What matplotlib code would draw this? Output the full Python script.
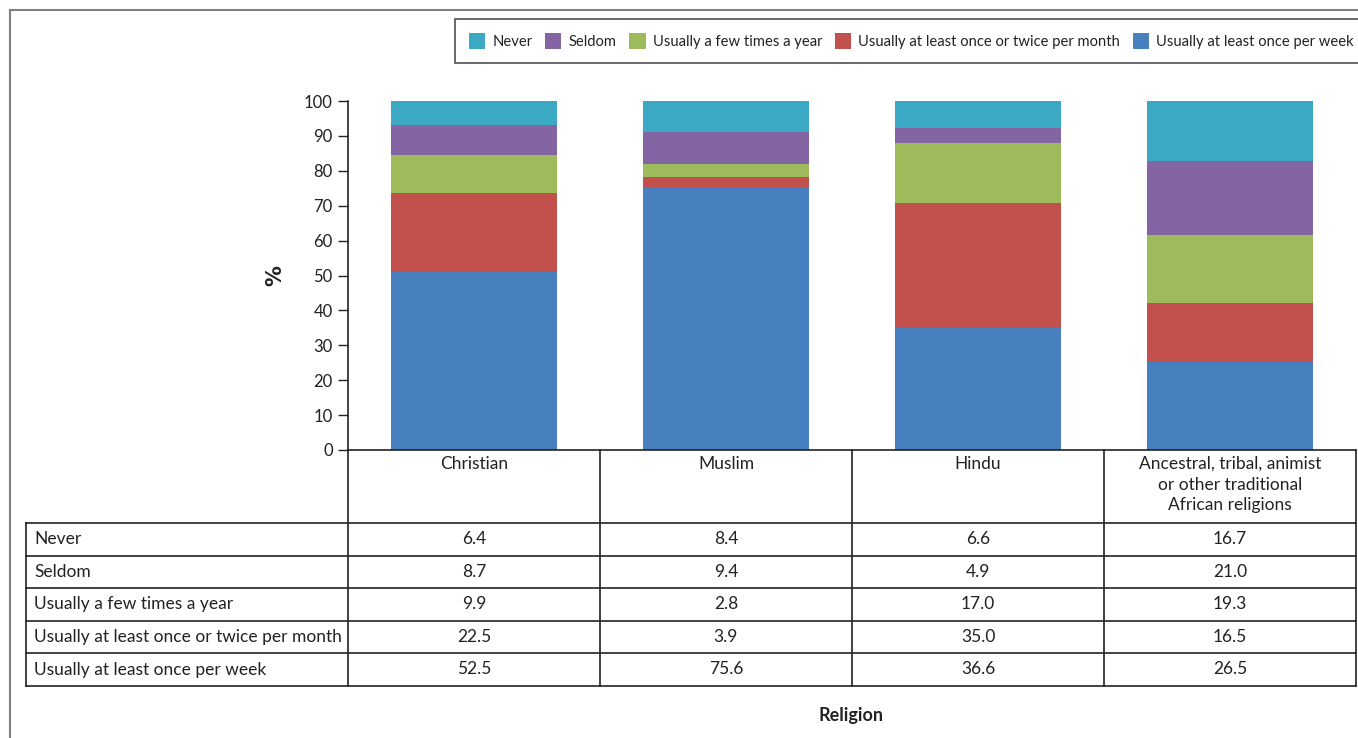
import matplotlib
matplotlib.use("Agg")
import matplotlib.pyplot as plt
from matplotlib.lines import Line2D
from matplotlib.patches import Patch
from matplotlib.transforms import blended_transform_factory

plt.rcParams['font.family'] = ['Lato', 'DejaVu Sans']

# ---- data ----
categories = ["Christian", "Muslim", "Hindu",
              "Ancestral, tribal, animist\nor other traditional\nAfrican religions"]
series_names = ["Never", "Seldom", "Usually a few times a year",
                "Usually at least once or twice per month",
                "Usually at least once per week"]
# values shown in the data table
table_never = [6.4, 8.4, 6.6, 16.7]
table_seldom = [8.7, 9.4, 4.9, 21.0]
table_few = [9.9, 2.8, 17.0, 19.3]
table_month = [22.5, 3.9, 35.0, 16.5]
table_week = [52.5, 75.6, 36.6, 26.5]
# bar segment heights as drawn in the chart
bar_never = [6.9, 8.9, 7.7, 17.2]
bar_seldom = [8.6, 9.1, 4.3, 21.2]
bar_few = [10.9, 3.8, 17.2, 19.5]
bar_month = [22.5, 3.0, 35.6, 16.8]
bar_week = [51.1, 75.2, 35.2, 25.3]
yticks = list(range(0, 101, 10))

colors = {"Never": "#3CA9C4", "Seldom": "#8365A4", "Usually a few times a year": "#9DBB5A",
          "Usually at least once or twice per month": "#C2514E",
          "Usually at least once per week": "#4880BF"}

W, H = 1358, 738
fig = plt.figure(figsize=(W / 100, H / 100), dpi=100)

def fx(p):
    return p / W

def fy(p):
    return 1 - p / H

ax = fig.add_axes([fx(348), fy(450), fx(1356) - fx(348), fy(101) - fy(450)])
ax.set_xlim(-0.5, 3.5)
ax.set_ylim(0, 100)

x = list(range(len(categories)))
stack = [("Usually at least once per week", bar_week),
         ("Usually at least once or twice per month", bar_month),
         ("Usually a few times a year", bar_few),
         ("Seldom", bar_seldom),
         ("Never", bar_never)]
bottom = [0.0] * len(x)
for name, vals in stack:
    ax.bar(x, vals, bottom=bottom, width=0.66, color=colors[name], linewidth=0)
    bottom = [b + v for b, v in zip(bottom, vals)]

for s in ["top", "right"]:
    ax.spines[s].set_visible(False)
ax.spines["left"].set_color("#222222")
ax.spines["bottom"].set_color("#222222")
ax.spines["left"].set_linewidth(1.2)
ax.spines["bottom"].set_linewidth(1.2)
ax.set_yticks(yticks)
ax.tick_params(axis="y", length=7, width=1, color="#222222", labelsize=12,
               labelcolor="#222222", pad=4)
ax.set_xticks([])

fig.text(fx(275), fy(276), "%", rotation=90, ha="center", va="center",
         fontsize=15, fontweight="bold", family=["DejaVu Sans"], color="#222222")

# ---- data table ----
tr = blended_transform_factory(ax.transData, fig.transFigure)
lc = "#222222"
lw = 1.2
fs = 12.5
col_edges = [-0.5, 0.5, 1.5, 2.5, 3.5]
row_lines = [523, 555.5, 588, 620.5, 653, 686]
left_px = 26
left_data = -0.5 - (348 - left_px) / 252.0

# vertical lines
for ce in col_edges:
    ax.add_line(Line2D([ce, ce], [fy(450), fy(row_lines[-1])], transform=tr,
                       color=lc, lw=lw, clip_on=False))
ax.add_line(Line2D([left_data, left_data], [fy(row_lines[0]), fy(row_lines[-1])],
                   transform=tr, color=lc, lw=lw, clip_on=False))
# horizontal lines
for rl in row_lines:
    ax.add_line(Line2D([left_data, 3.5], [fy(rl), fy(rl)], transform=tr,
                       color=lc, lw=lw, clip_on=False))

# header
for xi, cat in zip(x, categories):
    ax.text(xi, fy(456), cat, transform=tr, ha="center", va="top", fontsize=fs,
            color="#222222", linespacing=1.35)

table_rows = [("Never", table_never), ("Seldom", table_seldom),
              ("Usually a few times a year", table_few),
              ("Usually at least once or twice per month", table_month),
              ("Usually at least once per week", table_week)]
for i, (name, vals) in enumerate(table_rows):
    yc = (row_lines[i] + row_lines[i + 1]) / 2
    fig.text(fx(34), fy(yc), name, ha="left", va="center", fontsize=fs, color="#222222")
    for xi, v in zip(x, vals):
        ax.text(xi, fy(yc), f"{v:.1f}", transform=tr, ha="center", va="center",
                fontsize=fs, color="#222222")

fig.text(fx(851), fy(716), "Religion", ha="center", va="center", fontsize=13,
         fontweight="bold", color="#222222")

# ---- legend ----
handles = [Patch(facecolor=colors[n], edgecolor="none", label=n) for n in series_names]
leg = fig.legend(handles=handles, ncol=5, loc="upper right",
                 bbox_to_anchor=(fx(1368), fy(19)), fontsize=10.6,
                 frameon=True, fancybox=False, edgecolor="#222222",
                 handlelength=1.1, handleheight=1.3, handletextpad=0.5,
                 columnspacing=0.85, borderpad=0.95, borderaxespad=0)
leg.get_frame().set_linewidth(1.2)
for t in leg.get_texts():
    t.set_color("#222222")

# ---- outer frame lines ----
fig.add_artist(Line2D([fx(10), fx(10)], [fy(10), fy(738)], color="#808080", lw=1.5))
fig.add_artist(Line2D([fx(10), fx(1358)], [fy(10), fy(10)], color="#808080", lw=1.5))

fig.savefig("out.png", dpi=100)
